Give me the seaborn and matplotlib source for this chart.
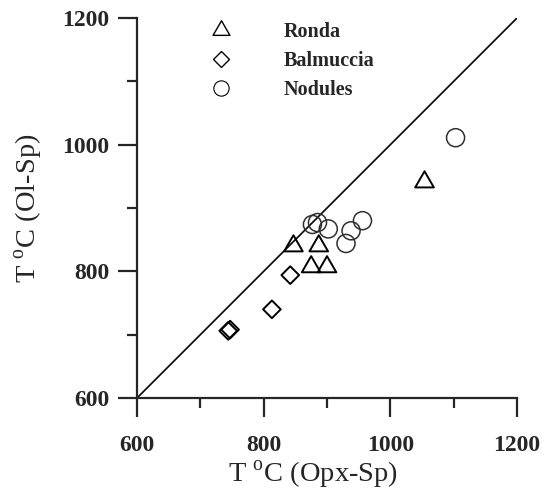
import matplotlib
matplotlib.use("Agg")
import matplotlib.pyplot as plt
import seaborn as sns
import pandas as pd
from matplotlib.lines import Line2D
from matplotlib.path import Path
from matplotlib.ticker import MultipleLocator

# Data (T °C)
ronda_x = [847, 887, 875, 900, 1054]
ronda_y = [840, 840, 807, 807, 941]
balm_x = [744, 747, 813, 842]
balm_y = [706, 708, 740, 794]
nod_x = [877, 885, 902, 930, 938, 956, 1103]
nod_y = [874, 877, 867, 844, 864, 880, 1011]
groups = ["Ronda", "Balmuccia", "Nodules"]
line_x = [600, 1200]
line_y = [600, 1200]

df = pd.concat([
    pd.DataFrame({"x": ronda_x, "y": ronda_y, "g": "Ronda"}),
    pd.DataFrame({"x": balm_x, "y": balm_y, "g": "Balmuccia"}),
    pd.DataFrame({"x": nod_x, "y": nod_y, "g": "Nodules"}),
])

sns.set_style("ticks")
plt.rcParams["font.family"] = ["Liberation Serif", "DejaVu Serif"]
plt.rcParams["mathtext.fontset"] = "custom"
plt.rcParams["mathtext.rm"] = "Liberation Serif"

fig = plt.figure(figsize=(5.42, 4.92), dpi=100)
ax = fig.add_axes([137/542, 1-398/492, 380/542, 380/492])

tri = Path([(-1, -0.577), (1, -0.577), (0, 1.155), (-1, -0.577)],
           [Path.MOVETO, Path.LINETO, Path.LINETO, Path.CLOSEPOLY])
styles = {
    "Ronda": dict(marker=tri, s=15.5**2, lw=1.4, ec="black"),
    "Balmuccia": dict(marker="D", s=9.0**2, lw=1.4, ec="black"),
    "Nodules": dict(marker="o", s=13.0**2, lw=1.1, ec="#303030"),
}
for g in groups:
    st = styles[g]
    sns.scatterplot(data=df[df.g == g], x="x", y="y", ax=ax, marker=st["marker"],
                    s=st["s"], facecolor="none", edgecolor=st["ec"], linewidth=st["lw"],
                    legend=False, zorder=3)

sns.lineplot(x=line_x, y=line_y, ax=ax, color="black", linewidth=1.2, zorder=2)

ax.set_xlim(600, 1200)
ax.set_ylim(600, 1200)
ax.xaxis.set_major_locator(MultipleLocator(200))
ax.xaxis.set_minor_locator(MultipleLocator(100))
ax.yaxis.set_major_locator(MultipleLocator(200))
ax.yaxis.set_minor_locator(MultipleLocator(100))
sns.despine(ax=ax)
for sp in ["left", "bottom"]:
    ax.spines[sp].set_linewidth(1.6)
ax.tick_params(which="major", length=14, width=1.6, direction="out", pad=6)
ax.tick_params(which="minor", length=7, width=1.6, direction="out")
ax.tick_params(axis="x", which="major", pad=12.5)
for lab in ax.get_xticklabels() + ax.get_yticklabels():
    lab.set_fontweight("bold")
    lab.set_fontsize(17)

ax.set_xlabel(r"T $^{\mathrm{o}}$C (Opx-Sp)", fontsize=20.5, labelpad=3)
ax.set_ylabel(r"T $^{\mathrm{o}}$C (Ol-Sp)", fontsize=20.5, labelpad=12)
ax.xaxis.set_label_coords(0.462, -0.16, transform=ax.transAxes)
ax.xaxis.label.set_va("top")

handles = [
    Line2D([], [], marker=tri, ls="none", markersize=14, mfc="none", mec="black", mew=1.0),
    Line2D([], [], marker="D", ls="none", markersize=8, mfc="none", mec="black", mew=1.0),
    Line2D([], [], marker="o", ls="none", markersize=11, mfc="none", mec="black", mew=0.8),
]
ax.legend(handles, groups, loc="upper left", bbox_to_anchor=((197-137)/380, 1.0),
          frameon=False, prop={"family": "Liberation Serif", "weight": "bold", "size": 14.5},
          handlelength=2.0, handletextpad=2.1, labelspacing=0.45, borderpad=0.2,
          borderaxespad=0)

fig.savefig("out.png", dpi=100)
